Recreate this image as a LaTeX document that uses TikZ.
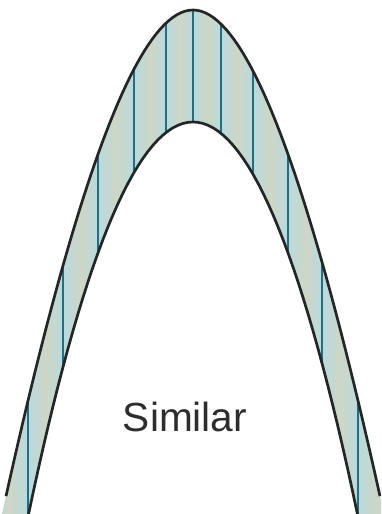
\documentclass[tikz,border=0pt]{standalone}
\usepackage{fontspec}
\setmainfont{Liberation Sans}

\definecolor{bandsage}{RGB}{206,214,198}
\definecolor{bandblue}{RGB}{184,218,222}
\definecolor{rimgray}{RGB}{35,38,38}
\definecolor{ribteal}{RGB}{40,108,128}
\definecolor{lblgray}{RGB}{45,45,45}

% outer and inner arch, y measured downwards from the top edge
\pgfmathdeclarefunction{archout}{1}{\pgfmathparse{10+(0.13748*(#1))^2/(1+0.00192*abs(#1))}}
\pgfmathdeclarefunction{archin}{1}{\pgfmathparse{122+(0.12042*(#1))^2}}

\begin{document}
\begin{tikzpicture}[
  x=0.03cm, y=-0.03cm,
  rim/.style={draw=rimgray, line width=2.3pt},
  rib/.style={draw=ribteal, line width=1.3pt},
  tint/.style={left color=bandblue, right color=bandblue, middle color=bandsage},
  lbl/.style={font=\fontsize{34.7}{40}\selectfont, text=lblgray}
]
\clip (0,0) rectangle (381,514);

\path[save path=\bandpath]
  plot[domain=-194:194, samples=80] ({193+\x},{archout(\x)})
  -- plot[domain=170:-170, samples=69] ({193+\x},{archin(\x)}) -- cycle;

% band, tinted blue along each rib
\begin{scope}
  \clip[use path=\bandpath];
  \foreach \xa/\xb in {-10/28,28/63,63/98,98/134,134/166,166/193,
                       193/221,221/253,253/288,288/322,322/358,358/396}
    \shade[tint] (\xa,0) rectangle (\xb,514);
\end{scope}

\foreach \dx in {-165,-130,-95,-59,-27,0,28,60,95,129,165}
  \draw[rib] ({193+\dx},{archout(\dx)}) -- ({193+\dx},{archin(\dx)});

\draw[rim] plot[domain=-187:187, samples=91] ({193+\x},{archout(\x)});
\draw[rim] plot[domain=-170:170, samples=69] ({193+\x},{archin(\x)});

\node[lbl] (similar) at (185,417) {Similar};
\end{tikzpicture}
\end{document}
